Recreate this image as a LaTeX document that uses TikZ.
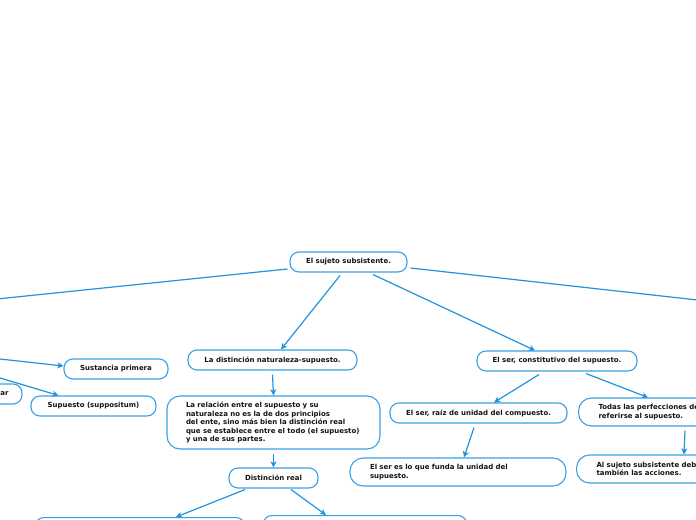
\documentclass[tikz,border=0pt]{standalone}
\usepackage{fontspec}
\setmainfont{DejaVu Sans}
\usetikzlibrary{arrows.meta,calc}
\definecolor{boxblue}{RGB}{58,160,230}
\definecolor{linkblue}{RGB}{32,146,222}
\definecolor{txt}{RGB}{20,20,20}
\begin{document}
\begin{tikzpicture}[x=1bp,y=-1bp,
  mm/.style={draw=boxblue, line width=1.1bp, rounded corners=9bp, fill=white, inner sep=0pt,
    font=\bfseries\fontsize{7}{8.5}\selectfont, text=txt, minimum height=20bp, align=center},
  ml/.style={mm, align=left, inner xsep=19bp, rounded corners=13bp},
  link/.style={draw=linkblue, line width=1.2bp, -{Stealth[length=6bp,width=6bp,inset=1.5bp]}}
]
\useasboundingbox (0,0) rectangle (696,520);

\node[mm, minimum width=117bp] (root) at (348.5,262) {El sujeto subsistente.};
\node[mm, minimum width=169bp] (dist) at (272.5,360) {La distinción naturaleza-supuesto.};
\node[mm, minimum width=160bp] (ser) at (557,361) {El ser, constitutivo del supuesto.};
\node[mm, minimum width=104bp] (sust) at (116,369) {Sustancia primera};
\node[mm, minimum width=125bp] (supu) at (93.5,406) {Supuesto (suppositum)};
\node[mm, minimum width=60bp] (sing) at (-8,394) {Singular};
\node[ml, text width=175bp, minimum height=53bp] (big) at (273.5,422.5)
  {La relación entre el supuesto y su\\naturaleza no es la de dos principios\\del ente, sino más bien la distinción real\\que se establece entre el todo (el supuesto)\\y una de sus partes.};
\node[mm, minimum width=89bp] (dreal) at (273.5,478) {Distinción real};
\node[mm, minimum width=210bp, minimum height=30bp, anchor=north] (bl) at (140,517) {};
\node[mm, minimum width=204bp, minimum height=30bp, anchor=north] (br) at (365,515) {};
\node[mm, minimum width=177bp] (raiz) at (478.5,413) {El ser, raíz de unidad del compuesto.};
\node[ml, inner xsep=20bp, text width=176bp, minimum height=28bp] (funda) at (458,472)
  {El ser es lo que funda la unidad del\\supuesto.};
\node[ml, inner xsep=20bp, text width=160bp, minimum height=28bp, anchor=west] (todas) at (578,412)
  {Todas las perfecciones deben\\referirse al supuesto.};
\node[ml, inner xsep=20bp, text width=160bp, minimum height=28bp, anchor=west] (alsuj) at (576,469)
  {Al sujeto subsistente deben atribuirse\\también las acciones.};

\coordinate (L1) at (-100,309);
\coordinate (R1) at (796,311);
\coordinate (L0) at (-100,348);

\draw[link] ([xshift=-2bp,yshift=-7bp]root.west) -- (L1);
\draw[link] ([xshift=3bp,yshift=-6bp]root.east) -- (R1);
\draw[link] ([xshift=-8.5bp,yshift=-3bp]root.south) -- ([xshift=8.5bp]dist.north);
\draw[link] ([xshift=24.5bp,yshift=-2bp]root.south) -- ([xshift=-22bp]ser.north);
\draw[link] ([yshift=-4bp]dist.south) -- (big.north);
\draw[link] ([yshift=-4bp]big.south) -- (dreal.north);
\draw[link] ([xshift=-28.5bp,yshift=-1bp]dreal.south) -- ([xshift=36bp]bl.north);
\draw[link] ([xshift=17.5bp,yshift=-1bp]dreal.south) -- ([xshift=-39bp]br.north);
\draw[link] ([xshift=-18bp,yshift=-3bp]ser.south) -- ([xshift=15.5bp]raiz.north);
\draw[link] ([xshift=29bp,yshift=-2bp]ser.south) -- ([xshift=70bp]todas.north west);
\draw[link] ([xshift=-4.5bp,yshift=-4bp]raiz.south) -- ([xshift=6bp]funda.north);
\draw[link] ([xshift=107bp,yshift=-4bp]todas.south west) -- ([xshift=108bp]alsuj.north west);
\draw[link] (L0) -- ([yshift=3bp]sust.west);
\draw[link] (L0) -- ([xshift=-35bp]supu.north);
\end{tikzpicture}
\end{document}
